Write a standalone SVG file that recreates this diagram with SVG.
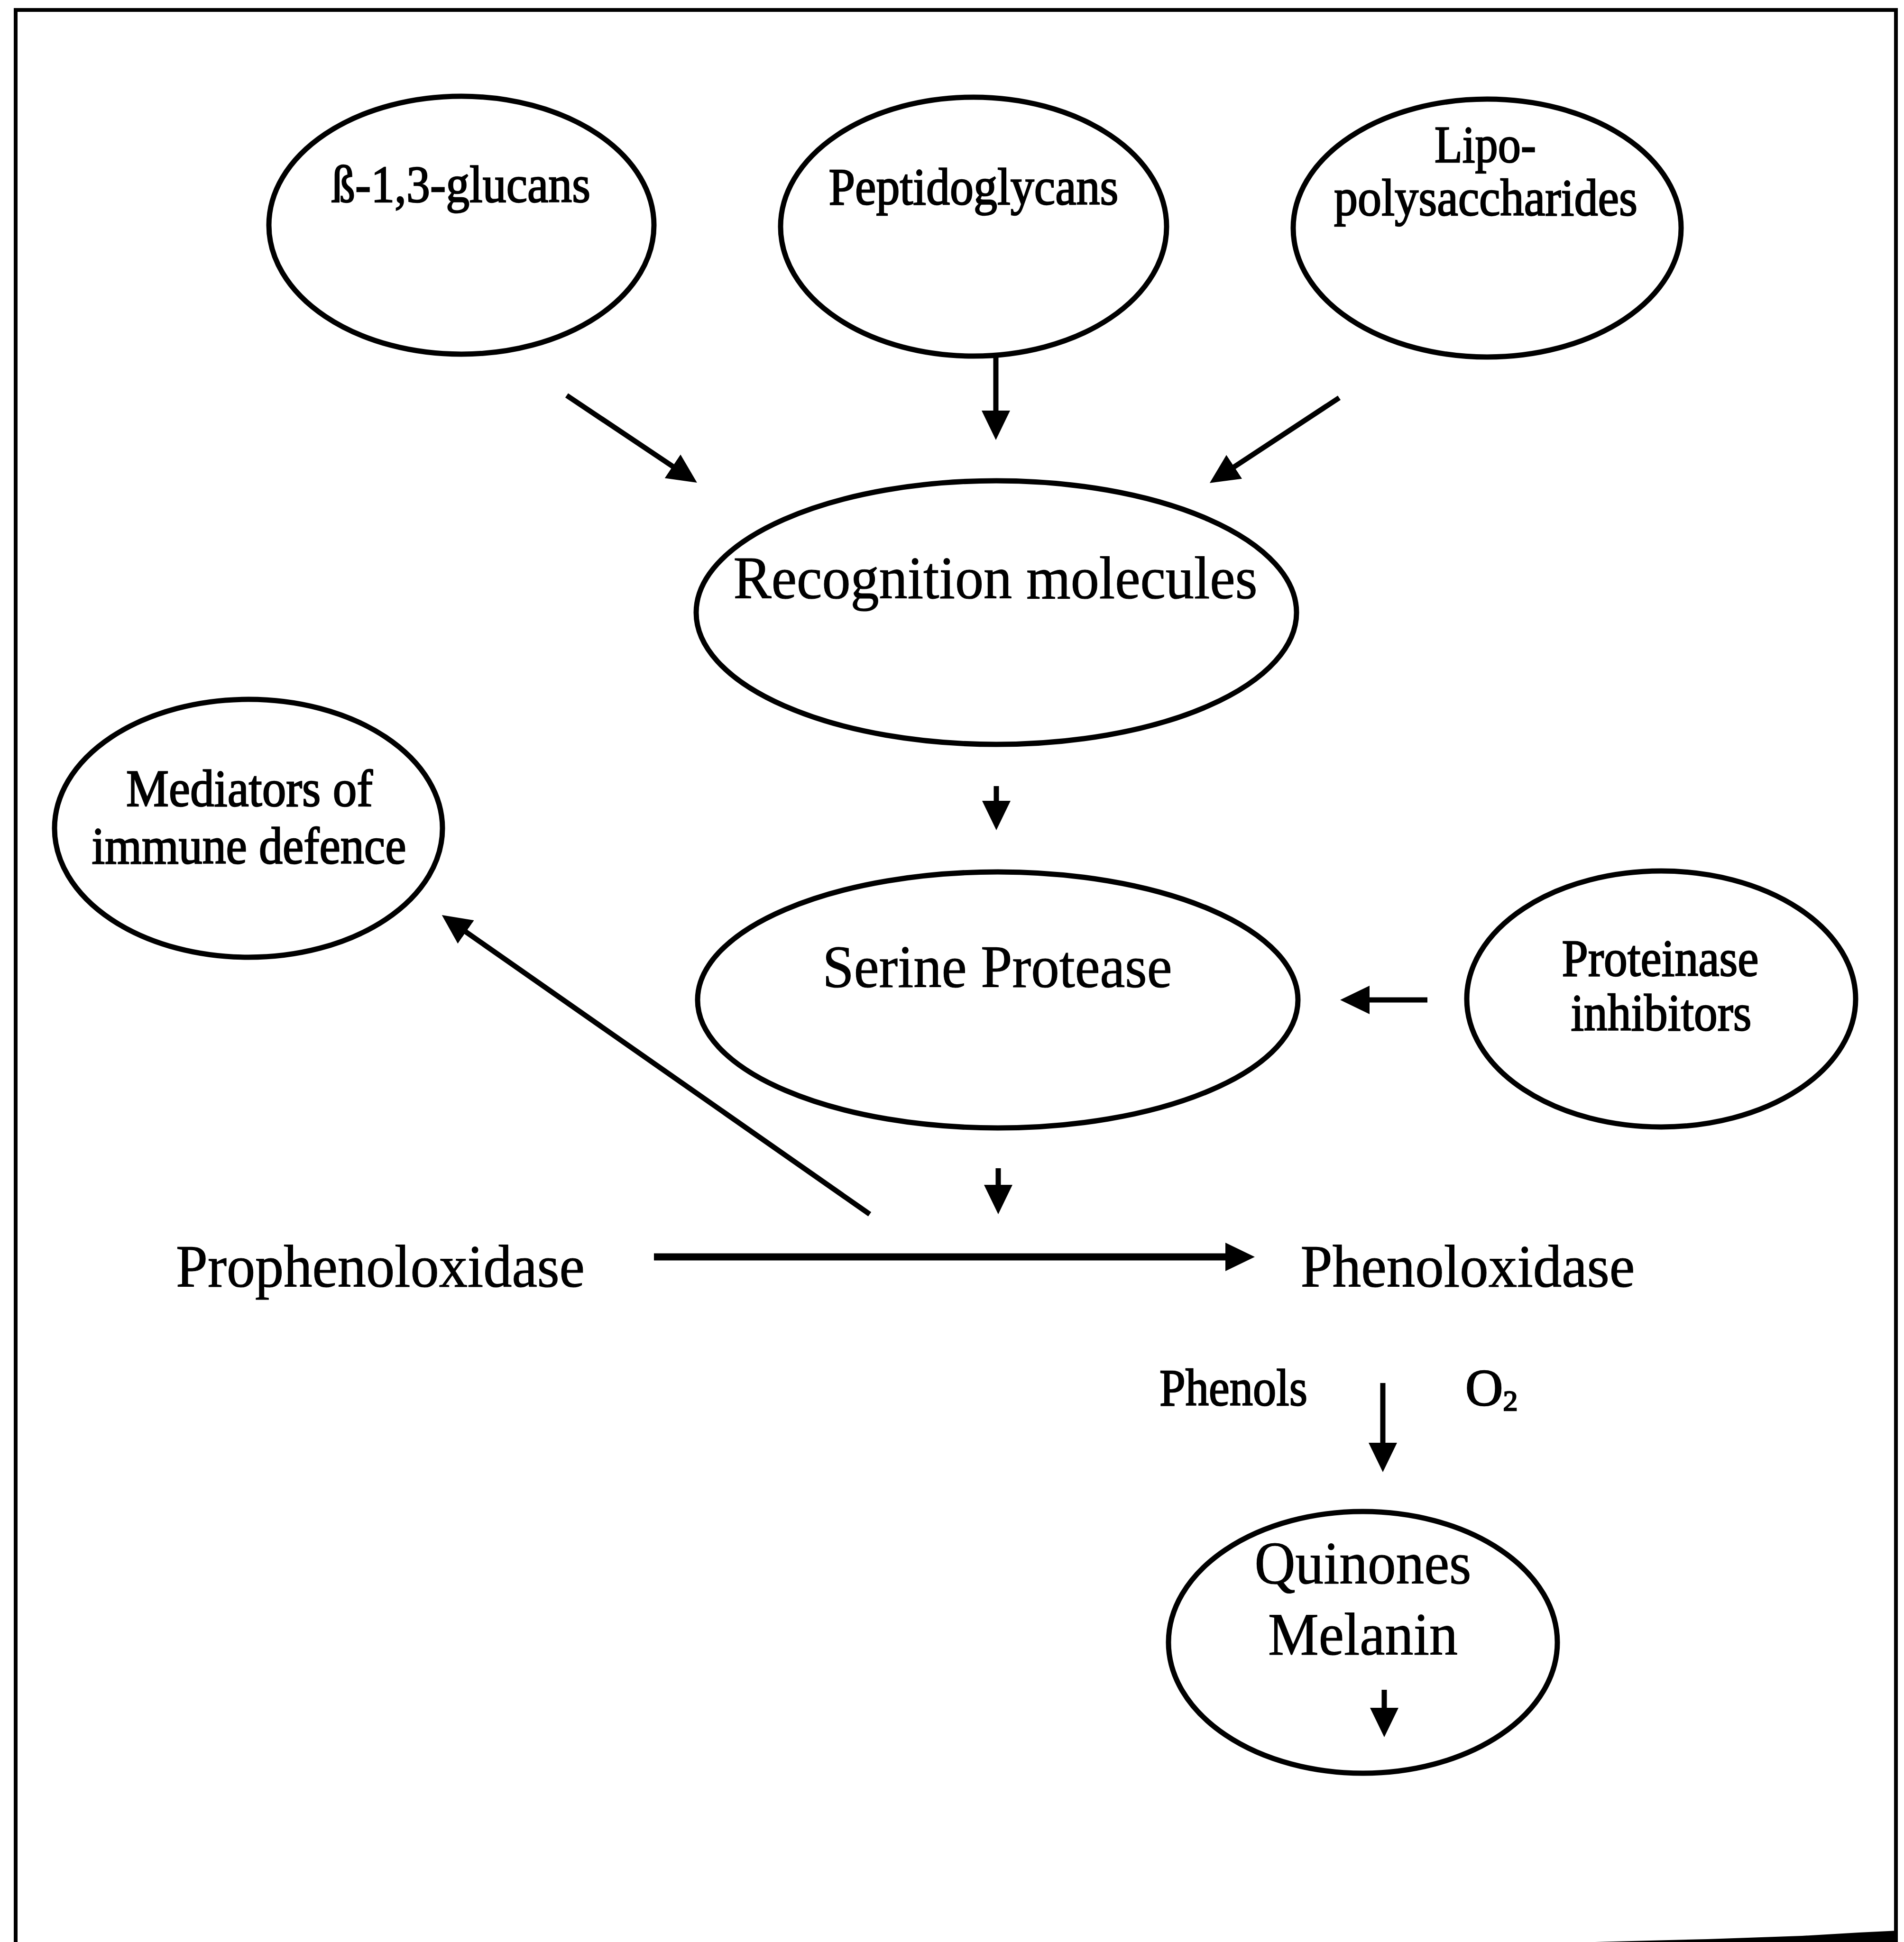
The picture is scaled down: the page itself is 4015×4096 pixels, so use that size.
<svg xmlns="http://www.w3.org/2000/svg" width="4015" height="4096" viewBox="0 0 4015 4096">
<style>
.node ellipse{fill:none;stroke:#000;stroke-width:11}
.t{font-family:"Liberation Serif","Times New Roman",serif;fill:#000;text-anchor:middle}
.s{font-size:110px;stroke:#000;stroke-width:2.5}
.l{font-size:126px;stroke:#000;stroke-width:1.2}
.c line{stroke:#000;stroke-width:11;fill:none}
</style>
<defs>
<marker id="ah" viewBox="0 0 62 60" refX="8" refY="30" markerWidth="62" markerHeight="60" markerUnits="userSpaceOnUse" orient="auto">
<path d="M0,0 L62,30 L0,60 Z" fill="#000"/>
</marker>
</defs>
<rect width="4015" height="4096" fill="#fff"/>
<g id="frame">
<path d="M33,4096 L33,21 L3998,21 L3998,4096" fill="none" stroke="#000" stroke-width="8"/>
<polygon points="3363,4096 3600,4090 3800,4083 3920,4076 4002,4072 4002,4096" fill="#000"/>
</g>
<g id="n-glucans" class="node"><ellipse cx="973" cy="475" rx="406" ry="272"/><text class="t s" x="972" y="426" textLength="546" lengthAdjust="spacingAndGlyphs">ß-1,3-glucans</text></g>
<g id="n-peptidoglycans" class="node"><ellipse cx="2053" cy="478" rx="407" ry="273"/><text class="t s" x="2053" y="431" textLength="611" lengthAdjust="spacingAndGlyphs">Peptidoglycans</text></g>
<g id="n-lps" class="node"><ellipse cx="3136" cy="481" rx="409" ry="272"/><text class="t s" x="3132" y="342" textLength="214" lengthAdjust="spacingAndGlyphs">Lipo-</text><text class="t s" x="3133" y="454" textLength="640" lengthAdjust="spacingAndGlyphs">polysaccharides</text></g>
<g id="n-recognition" class="node"><ellipse cx="2101" cy="1292" rx="633" ry="278"/><text class="t l" x="2099" y="1262" textLength="1105" lengthAdjust="spacingAndGlyphs">Recognition molecules</text></g>
<g id="n-mediators" class="node"><ellipse cx="524" cy="1747" rx="409" ry="272"/><text class="t s" x="526" y="1700" textLength="520" lengthAdjust="spacingAndGlyphs">Mediators of</text><text class="t s" x="525" y="1821" textLength="663" lengthAdjust="spacingAndGlyphs">immune defence</text></g>
<g id="n-serine" class="node"><ellipse cx="2104" cy="2109" rx="633" ry="270"/><text class="t l" x="2103" y="2082" textLength="737" lengthAdjust="spacingAndGlyphs">Serine Protease</text></g>
<g id="n-inhibitors" class="node"><ellipse cx="3503" cy="2107" rx="410" ry="270"/><text class="t s" x="3501" y="2058" textLength="415" lengthAdjust="spacingAndGlyphs">Proteinase</text><text class="t s" x="3503" y="2173" textLength="381" lengthAdjust="spacingAndGlyphs">inhibitors</text></g>
<g id="n-prophenoloxidase"><text class="t l" x="802" y="2714" textLength="862" lengthAdjust="spacingAndGlyphs">Prophenoloxidase</text></g>
<g id="n-phenoloxidase"><text class="t l" x="3095" y="2714" textLength="705" lengthAdjust="spacingAndGlyphs">Phenoloxidase</text></g>
<g id="n-phenols"><text class="t s" x="2601" y="2964" textLength="312" lengthAdjust="spacingAndGlyphs">Phenols</text></g>
<g id="n-o2"><text class="t s" x="3090" y="2964" style="text-anchor:start">O<tspan font-size="62" dy="11">2</tspan></text></g>
<g id="n-quinones" class="node"><ellipse cx="2874" cy="3464" rx="410" ry="276"/><text class="t l" x="2874" y="3340" textLength="457" lengthAdjust="spacingAndGlyphs">Quinones</text><text class="t l" x="2874" y="3490" textLength="400" lengthAdjust="spacingAndGlyphs">Melanin</text></g>
<g id="connectors" class="c">
<line x1="1195" y1="834" x2="1425" y2="988" marker-end="url(#ah)"/>
<line x1="2100" y1="747" x2="2100" y2="874" marker-end="url(#ah)"/>
<line x1="2824" y1="839" x2="2596" y2="989" marker-end="url(#ah)"/>
<line x1="2101" y1="1658" x2="2101" y2="1697" marker-end="url(#ah)"/>
<line x1="2105" y1="2464" x2="2105" y2="2507" marker-end="url(#ah)"/>
<line x1="3010" y1="2109" x2="2880" y2="2109" marker-end="url(#ah)"/>
<line x1="1379" y1="2651" x2="2592" y2="2651" marker-end="url(#ah)" style="stroke-width:15"/>
<line x1="1834" y1="2561" x2="976" y2="1961" marker-end="url(#ah)"/>
<line x1="2916" y1="2917" x2="2916" y2="3051" marker-end="url(#ah)"/>
<line x1="2919" y1="3564" x2="2919" y2="3610" marker-end="url(#ah)"/>
</g>
</svg>
